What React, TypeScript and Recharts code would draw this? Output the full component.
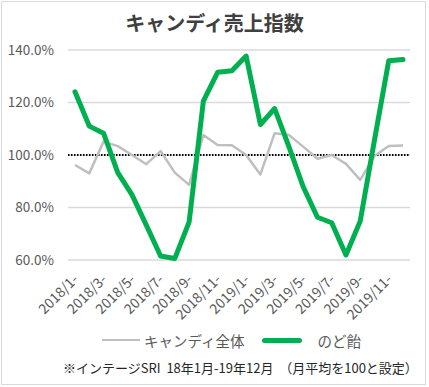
import React from 'react';
import { LineChart, Line, XAxis, YAxis, CartesianGrid, ReferenceLine } from 'recharts';

const months = [
    '2018/1-', '2018/2-', '2018/3-', '2018/4-', '2018/5-', '2018/6-',
    '2018/7-', '2018/8-', '2018/9-', '2018/10-', '2018/11-', '2018/12-',
    '2019/1-', '2019/2-', '2019/3-', '2019/4-', '2019/5-', '2019/6-',
    '2019/7-', '2019/8-', '2019/9-', '2019/10-', '2019/11-', '2019/12-',
];
const candyAll = [
    96.2, 93.0, 105.1, 103.4, 100.0, 96.5, 101.5, 93.3, 88.6, 107.6, 103.8, 103.7,
    100.0, 92.6, 108.3, 107.6, 103.2, 98.6, 100.0, 96.6, 90.5, 99.6, 103.4, 103.6,
];
const throatDrops = [
    124.1, 111.0, 108.3, 93.3, 84.8, 73.3, 61.5, 60.6, 74.4, 120.5, 131.5, 132.1,
    137.7, 111.6, 117.7, 103.2, 87.9, 76.3, 74.2, 61.9, 74.8, 105.7, 135.9, 136.4,
];
const yTicks = [60, 80, 100, 120, 140];

const data = months.map((m, i) => ({ month: m, all: candyAll[i], nodo: throatDrops[i] }));

const FONT = '"Noto Sans CJK JP", "Noto Sans", sans-serif';
const GREY_TEXT = '#595959';

const XTick = (props: any) => {
    const { x, payload } = props;
    const y = 276;
    return (
        <text
            x={x}
            y={y}
            transform={`rotate(-45, ${x}, ${y})`}
            textAnchor="end"
            dominantBaseline="central"
            fontSize={14}
            fill={GREY_TEXT}
            fontFamily={FONT}
        >
            {payload.value}
        </text>
    );
};

const App = () => {
    return (
        <div style={{ position: 'absolute', left: 0, top: 0, width: 429, height: 387, background: '#fff', fontFamily: FONT }}>
            <div style={{ position: 'absolute', left: 1, top: 1, width: 423, height: 382, border: '1px solid #d9d9d9' }} />
            <div
                style={{
                    position: 'absolute', left: 0, top: 8, width: 429, textAlign: 'center',
                    fontSize: 20, fontWeight: 'bold', color: '#404040',
                }}
            >
                キャンディ売上指数
            </div>
            <LineChart
                width={429}
                height={387}
                data={data}
                margin={{ top: 50, right: 19, left: 8, bottom: 67 }}
                style={{ position: 'absolute', left: 0, top: 0 }}
            >
                <CartesianGrid vertical={false} stroke="#d9d9d9" strokeWidth={1.5} />
                <XAxis
                    dataKey="month"
                    interval={1}
                    height={60}
                    axisLine={false}
                    tickLine={false}
                    tick={<XTick />}
                    padding={{ left: 7, right: 7 }}
                />
                <YAxis
                    domain={[60, 140]}
                    ticks={yTicks}
                    width={60}
                    axisLine={false}
                    tickLine={false}
                    tickMargin={8}
                    tickFormatter={(v: number) => v.toFixed(1) + '%'}
                    tick={{ fontSize: 13.5, fill: GREY_TEXT, fontFamily: FONT }}
                />
                <ReferenceLine y={100} stroke="#000" strokeWidth={2} strokeDasharray="1.5 1.5" />
                <Line
                    dataKey="all"
                    stroke="#bfbfbf"
                    strokeWidth={2.5}
                    dot={false}
                    isAnimationActive={false}
                    strokeLinejoin="round"
                />
                <Line
                    dataKey="nodo"
                    stroke="#00b050"
                    strokeWidth={5}
                    dot={false}
                    isAnimationActive={false}
                    strokeLinejoin="round"
                    strokeLinecap="round"
                />
            </LineChart>
            <div style={{ position: 'absolute', left: 102, top: 330, height: 20, display: 'flex', alignItems: 'center', fontSize: 14.5, color: GREY_TEXT }}>
                <span style={{ display: 'inline-block', width: 38, height: 2.5, background: '#bfbfbf', marginRight: 4 }} />
                <span>キャンディ全体</span>
                <span style={{ display: 'inline-block', width: 40, height: 5, background: '#00b050', borderRadius: 2.5, marginLeft: 18, marginRight: 15 }} />
                <span>のど飴</span>
            </div>
            <div style={{ position: 'absolute', left: 63, top: 358, fontSize: 13, color: '#262626', whiteSpace: 'nowrap' }}>
                ※インテージSRI&nbsp;&nbsp;18年1月-19年12月&nbsp;&nbsp;（月平均を100と設定）
            </div>
        </div>
    );
};

export default App;
